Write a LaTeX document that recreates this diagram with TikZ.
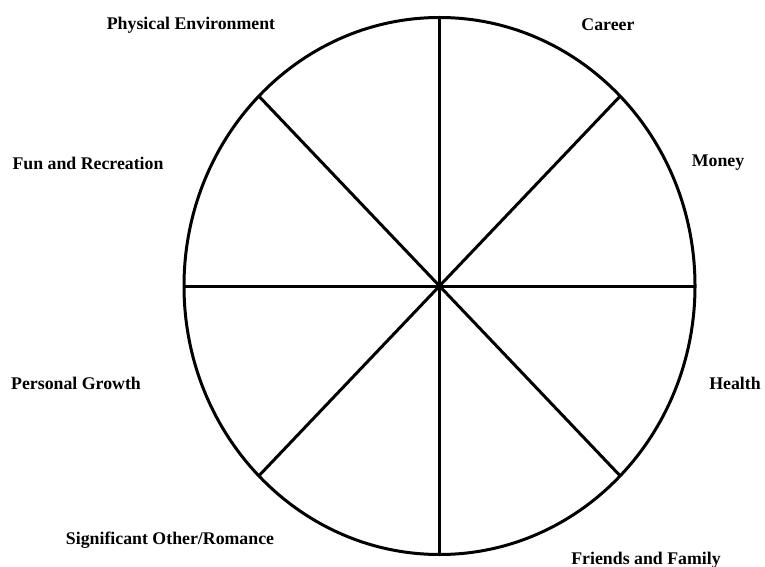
\documentclass[tikz,border=0pt]{standalone}
\usepackage{fontspec}
\setmainfont{Liberation Serif}

\begin{document}
\begin{tikzpicture}[x=1pt, y=-1pt]
      \tikzset{area/.style={font=\fontsize{17.8}{20}\selectfont\bfseries, inner sep=0pt}, rim/.style={line width=3pt}}
      \useasboundingbox (0,0) rectangle (765,567);
      \coordinate (hub) at (439.5,286);
      \draw[rim] (hub) ellipse [x radius=255.5, y radius=268.5];
      \foreach \a in {0,45,...,315} \draw[rim] (hub) -- ++(\a:255.5 and 268.5);
      \node[area] (env) at (191,25) {Physical Environment};
      \node[area] (career) at (608,25) {Career};
      \node[area] (fun) at (88,163) {Fun and Recreation};
      \node[area] (money) at (718,163) {Money};
      \node[area] (growth) at (76,383) {Personal Growth};
      \node[area] (health) at (735,383) {Health};
      \node[area] (romance) at (170,540) {Significant Other/Romance};
      \node[area] (family) at (646,560) {Friends and Family};
    \end{tikzpicture}
\end{document}
